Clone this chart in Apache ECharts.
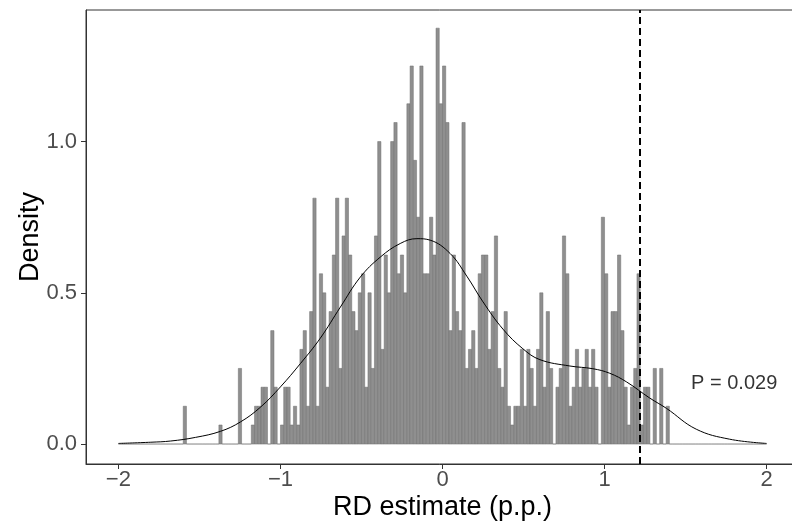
<!DOCTYPE html>
<html>
<head>
<meta charset="utf-8">
<script src="https://cdn.jsdelivr.net/npm/echarts@6/dist/echarts.min.js"></script>
<style>
html,body{margin:0;padding:0;background:#fff;}
#chart{width:792px;height:524px;}
</style>
</head>
<body>
<div id="chart"></div>
<script>
// Histogram: 200 bins of width 0.02 from -2 to 2 (density per bin)
const binMin = -2;
const binWidth = 0.02;
const histDensity = [
  0,0,0,0,0,0,0,0,0,0,
  0,0,0,0,0,0,0,0,0,0,
  0.125,0,0,0,0,0,0,0,0,0,
  0,0.063,0,0,0,0,0,0.25,0,0,
  0,0.063,0.125,0.125,0.188,0.188,0,0.375,0.188,0,
  0.063,0.188,0.188,0.063,0.125,0.063,0.313,0.375,0.125,0.438,
  0.813,0.125,0.563,0.5,0.188,0.438,0.625,0.813,0.25,0.688,
  0.813,0.625,0.438,0.375,0.5,0.563,0.188,0.5,0.25,0.688,
  1.0,0.313,0.625,0.5,1.0,1.063,0.563,0.625,0.5,1.125,
  1.25,0.938,0.75,1.25,0.563,0.563,0.75,0.625,1.375,1.125,
  1.25,1.063,0.375,0.625,0.438,0.375,1.063,0.25,0.313,0.375,
  0.25,0.563,0.625,0.625,0.313,0.438,0.688,0.25,0.188,0.438,
  0.125,0.063,0.125,0.125,0.313,0.125,0.313,0.25,0.125,0.313,
  0.5,0.188,0.438,0.25,0,0.188,0.25,0.688,0.563,0.125,
  0.188,0.313,0.188,0.25,0.313,0.188,0.313,0.188,0,0.75,
  0.563,0.188,0.438,0.438,0.625,0.375,0.188,0.063,0.188,0.25,
  0.563,0.063,0.188,0.188,0,0.25,0,0.25,0,0.125,
  0,0,0,0,0,0,0,0,0,0,
  0,0,0,0,0,0,0,0,0,0,
  0,0,0,0,0,0,0,0,0,0
];

// Kernel density curve
const densX = [-2.0,-1.8,-1.677,-1.524,-1.37,-1.247,-1.123,-1.0,-0.877,-0.754,-0.63,-0.507,-0.384,-0.261,-0.158,-0.076,0.047,0.15,0.25,0.373,0.496,0.601,0.786,0.928,1.032,1.137,1.279,1.382,1.566,1.772,2.0];
const densY = [0.002,0.006,0.010,0.022,0.042,0.073,0.122,0.189,0.266,0.35,0.453,0.552,0.618,0.663,0.679,0.674,0.63,0.555,0.47,0.38,0.315,0.279,0.258,0.249,0.234,0.205,0.152,0.118,0.049,0.016,0.002];

const observed = 1.22;
const annotX = 1.8, annotY = 0.2;
const annotText = 'P = 0.029';

const xTicks = [-2,-1,0,1,2];
const yTicks = [0,0.5,1.0];

const FONT = "'Liberation Sans', Arial, Helvetica, sans-serif";

const histData = histDensity.map((d,i)=>[binMin+i*binWidth, binMin+(i+1)*binWidth, d]);
const lineData = densX.map((x,i)=>[x, densY[i]]);

const chart = echarts.init(document.getElementById('chart'), null, {renderer:'canvas'});
chart.setOption({
  animation:false,
  backgroundColor:'#ffffff',
  textStyle:{fontFamily:FONT},
  grid:{left:86, top:10, width:713, height:454, show:true, borderColor:'#333333', borderWidth:1, outerBoundsMode:'none', containLabel:false},
  xAxis:{
    type:'value', min:-2.2, max:2.2,
    axisLine:{show:true, onZero:false, lineStyle:{color:'#333333', width:1}},
    axisTick:{show:true, length:5, lineStyle:{color:'#333333', width:1}, customValues:xTicks},
    axisLabel:{customValues:xTicks, color:'#4d4d4d', fontSize:22, fontFamily:FONT, margin:5,
      formatter:v=> (v<0 ? '\u2212'+Math.abs(v) : String(v))},
    splitLine:{show:false},
    name:'RD estimate (p.p.)', nameLocation:'middle', nameGap:30, nameMoveOverlap:false,
    nameTextStyle:{color:'#000000', fontSize:27, fontFamily:FONT}
  },
  yAxis:{
    type:'value', min:-0.066, max:1.435,
    axisLine:{show:true, onZero:false, lineStyle:{color:'#333333', width:1}},
    axisTick:{show:true, length:5, lineStyle:{color:'#333333', width:1}, customValues:yTicks},
    axisLabel:{customValues:yTicks, color:'#4d4d4d', fontSize:22, fontFamily:FONT, margin:9,
      formatter:v=>v.toFixed(1)},
    splitLine:{show:false},
    name:'Density', nameLocation:'middle', nameGap:42, nameMoveOverlap:false,
    nameTextStyle:{color:'#000000', fontSize:27, fontFamily:FONT}
  },
  series:[
    {
      type:'custom',
      data:histData,
      encode:{x:[0,1], y:2},
      renderItem:(params, api)=>{
        const p0 = api.coord([api.value(0), api.value(2)]);
        const p1 = api.coord([api.value(1), 0]);
        return {
          type:'rect',
          shape:{x:p0[0], y:p0[1], width:p1[0]-p0[0], height:p1[1]-p0[1]},
          style:{fill:'#8f8f8f', stroke:'#6e6e6e', lineWidth:0.5}
        };
      },
      z:1
    },
    {
      type:'line',
      data:lineData,
      smooth:0.4,
      symbol:'none',
      lineStyle:{color:'#000000', width:1},
      z:3,
      markLine:{
        silent:true, symbol:['none','none'],
        label:{show:false},
        lineStyle:{color:'#000000', width:2, type:[7,4]},
        data:[{xAxis:observed}]
      }
    },
    {
      type:'scatter',
      data:[[annotX, annotY]],
      symbolSize:0,
      z:4,
      label:{show:true, position:'inside', formatter:annotText, color:'#000000', fontSize:20, fontFamily:FONT}
    }
  ]
});
</script>
</body>
</html>
